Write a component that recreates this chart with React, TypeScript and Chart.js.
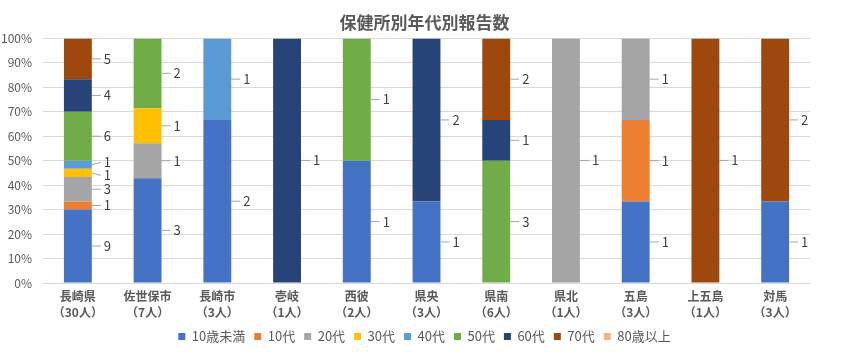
import React, { useEffect, useRef } from "react";
import { Chart, registerables } from "chart.js";

Chart.register(...registerables);

const chartTitle = "保健所別年代別報告数";
const categories = ["長崎県", "佐世保市", "長崎市", "壱岐", "西彼", "県央", "県南", "県北", "五島", "上五島", "対馬"];
const under10 = [9, 3, 2, 0, 1, 1, 0, 0, 1, 0, 1];
const teens = [1, 0, 0, 0, 0, 0, 0, 0, 1, 0, 0];
const twenties = [3, 1, 0, 0, 0, 0, 0, 1, 1, 0, 0];
const thirties = [1, 1, 0, 0, 0, 0, 0, 0, 0, 0, 0];
const forties = [1, 0, 1, 0, 0, 0, 0, 0, 0, 0, 0];
const fifties = [6, 2, 0, 0, 1, 0, 3, 0, 0, 0, 0];
const sixties = [4, 0, 0, 1, 0, 2, 1, 0, 0, 0, 0];
const seventies = [5, 0, 0, 0, 0, 0, 2, 0, 0, 1, 2];
const over80 = [0, 0, 0, 0, 0, 0, 0, 0, 0, 0, 0];
const seriesNames = ["10歳未満", "10代", "20代", "30代", "40代", "50代", "60代", "70代", "80歳以上"];
const seriesColors = ["#4472C4", "#ED7D31", "#A5A5A5", "#FFC000", "#5B9BD5", "#70AD47", "#264478", "#9E480E", "#F4B183"];
const series = [under10, teens, twenties, thirties, forties, fifties, sixties, seventies, over80];

const totals = categories.map((_, i) => series.reduce((s, arr) => s + arr[i], 0));

const FONT = "'Noto Sans CJK JP', 'Noto Sans', sans-serif";

const labelPlugin = {
  id: "segLabels",
  afterDatasetsDraw(chart: any) {
    const ctx = chart.ctx;
    ctx.save();
    ctx.font = `13px ${FONT}`;
    ctx.textBaseline = "middle";
    ctx.textAlign = "left";
    for (let i = 0; i < categories.length; i++) {
      const items: any[] = [];
      series.forEach((arr, di) => {
        const raw = arr[i];
        if (!raw) return;
        const el = chart.getDatasetMeta(di).data[i];
        const p = el.getProps(["x", "y", "base", "width"], true);
        const cy = (p.y + p.base) / 2;
        items.push({ cy, ly: cy, x: p.x + p.width / 2, text: String(raw) });
      });
      items.sort((a, b) => b.cy - a.cy);
      const minGap = 13;
      for (let it = 0; it < 60; it++) {
        let moved = false;
        for (let k = 0; k < items.length - 1; k++) {
          const a = items[k];
          const b = items[k + 1];
          const gap = a.ly - b.ly;
          if (gap < minGap - 0.01) {
            const d = (minGap - gap) / 2;
            a.ly += d;
            b.ly -= d;
            moved = true;
          }
        }
        if (!moved) break;
      }
      items.forEach((o) => {
        ctx.strokeStyle = "#A6A6A6";
        ctx.lineWidth = 1;
        ctx.beginPath();
        ctx.moveTo(o.x, o.cy);
        ctx.lineTo(o.x + 9, o.ly);
        ctx.stroke();
        ctx.fillStyle = "#404040";
        ctx.fillText(o.text, o.x + 12, o.ly);
      });
    }
    ctx.restore();
  },
};

export default function App() {
  const ref = useRef<HTMLCanvasElement | null>(null);
  useEffect(() => {
    if (!ref.current) return;
    Chart.defaults.font.family = FONT;
    const chart = new Chart(ref.current, {
      type: "bar",
      data: {
        labels: categories.map((c, i) => [c, `（${totals[i]}人）`]),
        datasets: series.map((arr, di) => ({
          label: seriesNames[di],
          data: arr.map((v, i) => (totals[i] ? (v / totals[i]) * 100 : 0)),
          backgroundColor: seriesColors[di],
          borderWidth: 0,
          barPercentage: 0.4,
          categoryPercentage: 1,
        })),
      },
      options: {
        responsive: false,
        animation: false,
        layout: { padding: { left: 0, right: 0, top: 0, bottom: 3 } },
        plugins: {
          tooltip: { enabled: false },
          title: {
            display: true,
            text: chartTitle,
            color: "#595959",
            font: { size: 17, weight: "bold", family: FONT },
            padding: { top: 12, bottom: 6 },
          },
          legend: {
            position: "bottom",
            labels: {
              boxWidth: 7,
              boxHeight: 7,
              padding: 9,
              color: "#595959",
              font: { size: 13, family: FONT },
            },
          },
        },
        scales: {
          x: {
            stacked: true,
            grid: { display: false, drawTicks: false },
            border: { display: false },
            ticks: {
              color: "#595959",
              font: { size: 12, weight: "bold", family: FONT, lineHeight: 1.3 },
              padding: 6,
              maxRotation: 0,
              autoSkip: false,
            },
            afterFit: (s: any) => {
              s.height = 38;
            },
          },
          y: {
            stacked: true,
            min: 0,
            max: 100,
            grid: { color: "#D9D9D9", drawTicks: false },
            border: { display: false },
            ticks: {
              stepSize: 10,
              color: "#595959",
              font: { size: 12, family: FONT },
              padding: 11,
              callback: (v: any) => `${v}%`,
            },
            afterFit: (s: any) => {
              s.width = 43;
            },
          },
          yRight: {
            position: "right",
            display: true,
            min: 0,
            max: 100,
            grid: { display: false, drawTicks: false },
            border: { display: false },
            ticks: { display: false },
            afterFit: (s: any) => {
              s.width = 39;
            },
          },
        },
      },
      plugins: [labelPlugin],
    } as any);
    return () => chart.destroy();
  }, []);
  return (
    <div style={{ position: "absolute", left: 0, top: 0, width: 849, height: 356, background: "#fff" }}>
      <canvas ref={ref} width={849} height={356} style={{ display: "block" }} />
    </div>
  );
}
